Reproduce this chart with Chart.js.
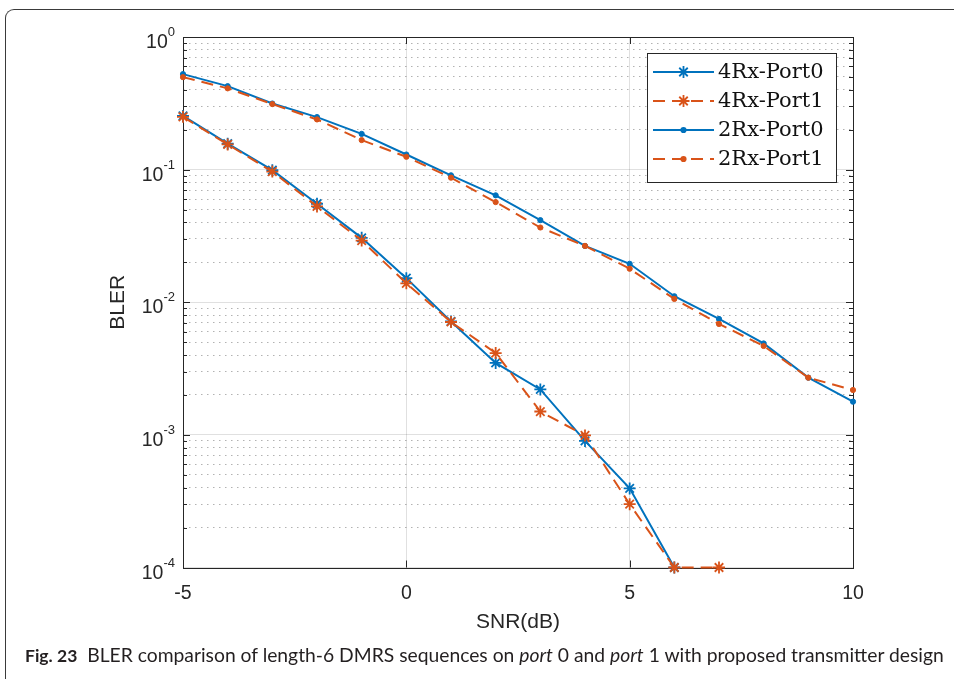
<!DOCTYPE html>
<html>
<head>
<meta charset="utf-8">
<script src="https://cdn.jsdelivr.net/npm/chart.js@4.4.1/dist/chart.umd.min.js"></script>
<style>
  html, body { margin: 0; padding: 0; background: #fff; }
  body { width: 954px; height: 679px; position: relative; overflow: hidden; }
  #frame {
    position: absolute; left: 5px; top: 9px; width: 1000px; height: 700px;
    border-left: 1.5px solid #3a3a3a; border-top: 1.5px solid #3a3a3a;
    border-top-left-radius: 9px; box-sizing: border-box;
  }
  #wrap { position: absolute; left: 0; top: 0; width: 954px; height: 679px; }
  #caption {
    position: absolute; left: 25px; top: 643px; white-space: nowrap;
    font-family: "Lato", "Open Sans", sans-serif; font-size: 19.3px; color: #231f20;
  }
  #caption b { font-weight: 700; font-size: 17.5px; margin-right: 5px; }
</style>
</head>
<body>
<div id="frame"></div>
<div id="wrap"><canvas id="c" width="954" height="679"></canvas></div>
<div id="caption"><b>Fig. 23</b> BLER comparison of length-6 DMRS sequences on <i>port</i> 0 and <i>port</i> 1 with proposed transmitter design</div>
<script>
// SNR grid (dB)
const snrDb = [-5, -4, -3, -2, -1, 0, 1, 2, 3, 4, 5, 6, 7, 8, 9, 10];

// BLER per configuration
const bler4RxPort0 = [0.254, 0.157, 0.099, 0.0553, 0.0306, 0.0152, 0.00717, 0.00349, 0.0022, 0.0009, 0.000395, 0.0001];
const bler4RxPort1 = [0.25, 0.155, 0.0966, 0.0528, 0.0292, 0.0139, 0.0071, 0.00414, 0.0015, 0.00099, 0.0003, 0.0001, 0.0001];
const bler2RxPort0 = [0.525, 0.426, 0.315, 0.249, 0.186, 0.13, 0.0906, 0.064, 0.0416, 0.0266, 0.0195, 0.0111, 0.00748, 0.00489, 0.0027, 0.00178];
const bler2RxPort1 = [0.498, 0.41, 0.312, 0.239, 0.167, 0.125, 0.087, 0.0569, 0.0366, 0.0266, 0.0179, 0.0106, 0.00686, 0.00468, 0.0027, 0.00218];

const seriesNames = ['4Rx-Port0', '4Rx-Port1', '2Rx-Port0', '2Rx-Port1'];

// Axis tick labels
const xTickValues = [-5, 0, 5, 10];
const yDecadeExponents = [0, -1, -2, -3, -4];

const BLUE = '#0072BD';
const ORANGE = '#D95319';
const AXIS = '#262626';

function pts(values) {
  return values.map((v, i) => ({ x: snrDb[i], y: v }));
}

function isDecade(v) {
  const l = Math.log10(v);
  return Math.abs(l - Math.round(l)) < 1e-9;
}

const datasets = [
  { label: seriesNames[0], data: pts(bler4RxPort0), borderColor: BLUE, backgroundColor: BLUE,
    borderDash: [], pointStyle: 'star', pointRadius: 6, pointBorderWidth: 1.8, order: 4 },
  { label: seriesNames[1], data: pts(bler4RxPort1), borderColor: ORANGE, backgroundColor: ORANGE,
    borderDash: [12, 7], pointStyle: 'star', pointRadius: 6, pointBorderWidth: 1.8, order: 3 },
  { label: seriesNames[2], data: pts(bler2RxPort0), borderColor: BLUE, backgroundColor: BLUE,
    borderDash: [], pointStyle: 'circle', pointRadius: 2.6, pointBorderWidth: 1, order: 2 },
  { label: seriesNames[3], data: pts(bler2RxPort1), borderColor: ORANGE, backgroundColor: ORANGE,
    borderDash: [12, 7], pointStyle: 'circle', pointRadius: 2.6, pointBorderWidth: 1, order: 1 }
].map(d => Object.assign({ borderWidth: 2, tension: 0, clip: false, pointHoverRadius: d.pointRadius }, d));

// Axes box with inward ticks, drawn under the data
const boxPlugin = {
  id: 'boxTicks',
  beforeDatasetsDraw(chart) {
    const { ctx, chartArea: a, scales: { x, y } } = chart;
    ctx.save();
    ctx.strokeStyle = AXIS;
    ctx.lineWidth = 1;
    ctx.beginPath();
    y.ticks.forEach(t => {
      const py = Math.round(y.getPixelForValue(t.value)) + 0.5;
      const len = isDecade(t.value) ? 7 : 4;
      ctx.moveTo(a.left, py); ctx.lineTo(a.left + len, py);
      ctx.moveTo(a.right, py); ctx.lineTo(a.right - len, py);
    });
    x.ticks.forEach(t => {
      const px = Math.round(x.getPixelForValue(t.value)) + 0.5;
      ctx.moveTo(px, a.bottom); ctx.lineTo(px, a.bottom - 7);
      ctx.moveTo(px, a.top); ctx.lineTo(px, a.top + 7);
    });
    ctx.stroke();
    ctx.strokeRect(Math.round(a.left) + 0.5, Math.round(a.top) + 0.5,
      Math.round(a.right - a.left), Math.round(a.bottom - a.top));
    ctx.restore();
  },
  afterDraw(chart) {
    // power-of-ten labels on the log axis
    const { ctx, chartArea: a, scales: { y } } = chart;
    ctx.save();
    ctx.fillStyle = AXIS;
    ctx.textBaseline = 'alphabetic';
    yDecadeExponents.forEach(e => {
      const py = y.getPixelForValue(Math.pow(10, e));
      const sup = String(e);
      ctx.font = '13px "Liberation Sans", Arial, sans-serif';
      const supW = ctx.measureText(sup).width;
      const right = a.left - 8;
      ctx.textAlign = 'right';
      ctx.fillText(sup, right, py - 1);
      ctx.font = '19.5px "Liberation Sans", Arial, sans-serif';
      ctx.fillText('10', right - supW, py + 11);
    });
    ctx.restore();
  }
};

// Legend box in the upper-right corner of the axes
const legendPlugin = {
  id: 'insetLegend',
  afterDatasetsDraw(chart) {
    const { ctx } = chart;
    const bx = 647.5, by = 53.5, bw = 189, bh = 129;
    ctx.save();
    ctx.fillStyle = '#fff';
    ctx.fillRect(bx, by, bw, bh);
    ctx.strokeStyle = AXIS;
    ctx.lineWidth = 1;
    ctx.strokeRect(bx, by, bw, bh);
    const rows = [72, 101, 130, 159];
    chart.data.datasets.forEach((ds, i) => {
      const ry = rows[i];
      ctx.strokeStyle = ds.borderColor;
      ctx.lineWidth = ds.borderWidth;
      ctx.setLineDash(ds.borderDash);
      ctx.beginPath();
      ctx.moveTo(653, ry); ctx.lineTo(714, ry);
      ctx.stroke();
      ctx.setLineDash([]);
      const mx = 683.5;
      if (ds.pointStyle === 'star') {
        const r = ds.pointRadius, d = r * Math.SQRT1_2;
        ctx.lineWidth = ds.pointBorderWidth;
        ctx.beginPath();
        ctx.moveTo(mx - r, ry); ctx.lineTo(mx + r, ry);
        ctx.moveTo(mx, ry - r); ctx.lineTo(mx, ry + r);
        ctx.moveTo(mx - d, ry - d); ctx.lineTo(mx + d, ry + d);
        ctx.moveTo(mx - d, ry + d); ctx.lineTo(mx + d, ry - d);
        ctx.stroke();
      } else {
        ctx.fillStyle = ds.backgroundColor;
        ctx.beginPath();
        ctx.arc(mx, ry, ds.pointRadius + 0.5, 0, Math.PI * 2);
        ctx.fill();
      }
      ctx.fillStyle = '#111';
      ctx.font = '21px "DejaVu Serif", "Liberation Serif", serif';
      ctx.textAlign = 'left';
      ctx.textBaseline = 'middle';
      ctx.fillText(ds.label, 718, ry + 1);
    });
    ctx.restore();
  }
};

new Chart(document.getElementById('c'), {
  type: 'line',
  data: { datasets },
  plugins: [boxPlugin, legendPlugin],
  options: {
    responsive: false,
    animation: false,
    devicePixelRatio: 1,
    layout: { padding: { left: 100, right: 101, top: 37, bottom: 0 } },
    plugins: { legend: { display: false }, tooltip: { enabled: false } },
    scales: {
      x: {
        type: 'linear', min: -5, max: 10,
        afterBuildTicks: s => { s.ticks = xTickValues.map(v => ({ value: v })); },
        afterFit: s => { s.height = 111.5; },
        ticks: { color: AXIS, padding: 14.5, font: { family: '"Liberation Sans", Arial, sans-serif', size: 19.5 } },
        grid: { color: 'rgba(0,0,0,0.12)', lineWidth: 1, drawTicks: false },
        border: { display: false },
        title: { display: true, text: 'SNR(dB)', color: AXIS,
                 font: { family: '"Liberation Sans", Arial, sans-serif', size: 21 },
                 padding: { top: 0, bottom: 44.4 } }
      },
      y: {
        type: 'logarithmic', min: 1e-4, max: 1,
        afterBuildTicks: s => {
          const t = [];
          for (let e = -4; e < 0; e++) for (let m = 1; m <= 9; m++) t.push({ value: m * Math.pow(10, e) });
          t.push({ value: 1 });
          s.ticks = t;
        },
        afterFit: s => { s.width = 83; },
        ticks: { display: false },
        grid: {
          drawTicks: false, lineWidth: 1,
          color: c => (c.tick && isDecade(c.tick.value)) ? 'rgba(0,0,0,0.12)' : 'rgba(0,0,0,0.3)'
        },
        border: {
          display: false,
          dash: c => (c.tick && !isDecade(c.tick.value)) ? [1.5, 4.5] : []
        },
        title: { display: true, text: 'BLER', color: AXIS,
                 font: { family: '"Liberation Sans", Arial, sans-serif', size: 21 },
                 padding: { top: 6, bottom: 52 } }
      }
    }
  }
});
</script>
</body>
</html>
